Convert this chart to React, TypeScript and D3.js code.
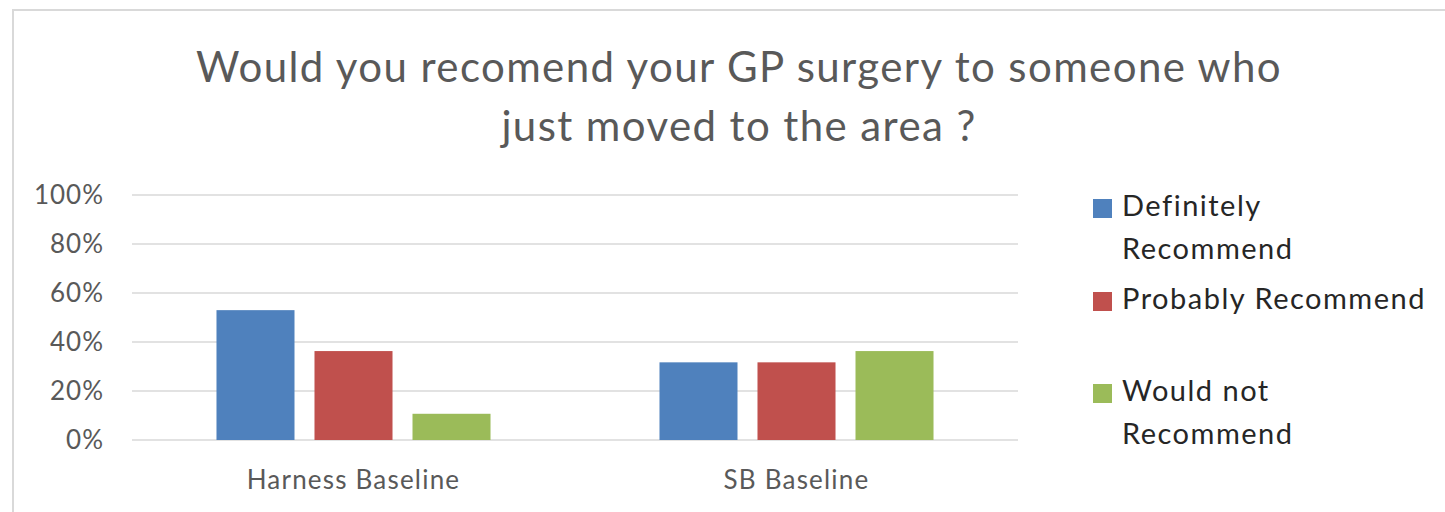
import * as d3 from "d3"
import React from "react"

const categories = ["Harness Baseline", "SB Baseline"]
const seriesNames = ["Definitely Recommend", "Probably Recommend", "Would not Recommend"]
const definitely = [0.53, 0.317]
const probably = [0.363, 0.317]
const wouldNot = [0.107, 0.363]
const yTicks = [0, 0.2, 0.4, 0.6, 0.8, 1]
const legendLines = [["Definitely", "Recommend"], ["Probably Recommend"], ["Would not", "Recommend"]]
const titleLines = ["Would you recomend your GP surgery to someone who", "just moved to the area ?"]

const colors = ["#4f81bd", "#c0504d", "#9bbb59"]
const font = "Lato, 'Open Sans', sans-serif"

export default function App() {
  const width = 1445
  const height = 512
  const plot = { left: 132, right: 1018, top: 195, bottom: 440 }

  const values = [definitely, probably, wouldNot]

  const x0 = d3.scaleBand().domain(categories).range([plot.left, plot.right]).padding(0)
  const x1 = d3.scaleBand()
    .domain(seriesNames)
    .range([0, x0.bandwidth()])
    .paddingInner(0.204)
    .paddingOuter(0.862)
  const y = d3.scaleLinear().domain([0, 1]).range([plot.bottom, plot.top])

  const legendY = [216, 309, 401]

  return (
    <svg width={width} height={height} style={{ position: "absolute", left: 0, top: 0 }}>
      <rect x={0} y={0} width={width} height={height} fill="#fff" />
      <rect x={13} y={10} width={width + 20} height={height + 20} fill="none" stroke="#d9d9d9" strokeWidth={2} />

      {titleLines.map((t, i) => (
        <text key={t} x={739} y={82 + i * 59} textAnchor="middle" fontFamily={font}
          fontSize={42} letterSpacing={1.4} fill="#595959">{t}</text>
      ))}

      {yTicks.map(t => (
        <g key={t}>
          <line x1={plot.left} x2={plot.right} y1={y(t)} y2={y(t)} stroke="#d9d9d9" strokeWidth={1.5} />
          <text x={104} y={y(t)} dy="0.36em" textAnchor="end" fontFamily={font} fontSize={26}
            letterSpacing={1} fill="#595959">{d3.format(".0%")(t)}</text>
        </g>
      ))}

      {categories.map((c, ci) => (
        <g key={c} transform={`translate(${x0(c)},0)`}>
          {seriesNames.map((s, si) => (
            <rect key={s} x={x1(s)} y={y(values[si][ci])} width={x1.bandwidth()}
              height={y(0) - y(values[si][ci])} fill={colors[si]} />
          ))}
          <text x={x0.bandwidth() / 2} y={489} textAnchor="middle" fontFamily={font} fontSize={26}
            letterSpacing={1.2} fill="#595959">{c}</text>
        </g>
      ))}

      {seriesNames.map((s, i) => (
        <g key={s}>
          <rect x={1093} y={legendY[i] - 17} width={19} height={19} fill={colors[i]} />
          {legendLines[i].map((line, li) => (
            <text key={li} x={1122} y={legendY[i] + li * 43} fontFamily={font} fontSize={29}
              letterSpacing={1.5} fill="#262626">{line}</text>
          ))}
        </g>
      ))}
    </svg>
  )
}
